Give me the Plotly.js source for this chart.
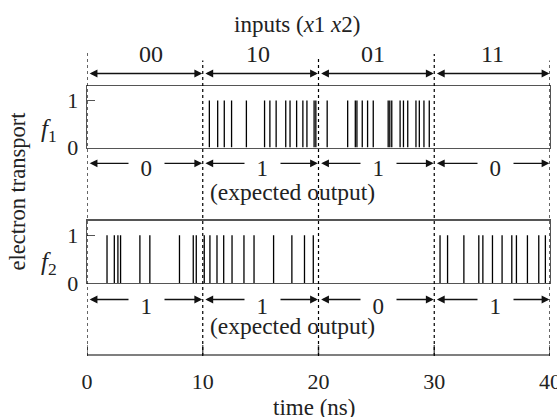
<!DOCTYPE html>
<html>
<head>
<meta charset="utf-8">
<script src="https://cdn.plot.ly/plotly-3.0.1.min.js"></script>
<style>html,body{margin:0;padding:0;background:#fff;}#chart{width:557px;height:417px;}</style>
</head>
<body>
<div id="chart"></div>
<script>
// ---- data ----
const f1Times = [10.57, 11.29, 11.86, 12.49, 13.77, 15.34, 15.80, 16.34, 17.17, 17.54, 18.11, 18.65, 19.00, 19.62, 19.77,
  20.75, 22.52, 23.18, 23.32, 23.78, 24.24, 24.73, 26.02, 26.16, 26.33, 27.05, 27.34, 27.71, 28.42, 28.71, 29.11, 29.57];
const f2Times = [1.73, 2.36, 2.67, 2.90, 4.57, 5.43, 7.99, 9.18, 9.44, 10.13, 10.62, 11.23, 11.81, 12.53, 13.56, 14.43,
  16.12, 17.70, 18.79, 19.55, 30.50, 31.15, 32.56, 33.85, 34.20, 35.03, 35.86, 36.70, 37.10, 38.05, 39.03, 39.60];
const spikeLevel = 1;
const boundaries = [0, 10, 20, 30, 40];
const inputLabels = ['00', '10', '01', '11'];
const f1Expected = ['0', '1', '1', '0'];
const f2Expected = ['1', '1', '0', '1'];
const xTicks = [0, 10, 20, 30, 40];
const yTicks = [0, 1];

// ---- geometry helpers ----
const TOP = 51, BOT = 356, H = BOT - TOP, LEFT = 87, W = 463;
const py = p => (BOT - p) / H;
const px = p => (p - LEFT) / W;

function spikes(times) {
  const x = [], y = [];
  times.forEach(t => { x.push(t, t, null); y.push(0, spikeLevel, null); });
  return {x, y};
}
const s1 = spikes(f1Times), s2 = spikes(f2Times);
// bottom time axis: baseline plus upward tick marks at the tick values
const axX = [xTicks[0], xTicks[xTicks.length - 1], null], axY = [0, 0, null];
xTicks.forEach(t => { axX.push(t, t, null); axY.push(0, 1, null); });

const FONT = 'Liberation Serif, Times New Roman, serif';
const TXT = '#222';

const traces = [
  {type: 'scatter', mode: 'lines', x: s1.x, y: s1.y, xaxis: 'x2', yaxis: 'y',
   line: {color: '#000', width: 1.3}, hoverinfo: 'skip', showlegend: false},
  {type: 'scatter', mode: 'lines', x: s2.x, y: s2.y, xaxis: 'x3', yaxis: 'y2',
   line: {color: '#000', width: 1.3}, hoverinfo: 'skip', showlegend: false},
  {type: 'scatter', mode: 'lines', x: axX, y: axY, xaxis: 'x', yaxis: 'y3',
   line: {color: '#555', width: 1.4}, hoverinfo: 'skip', showlegend: false}
];

const boxAxisX = {matches: 'x', showline: true, mirror: true, linecolor: '#555', linewidth: 1.3,
  showticklabels: false, ticks: '', showgrid: false, zeroline: false};
const panelY = dom => ({domain: dom, range: [0, 1.31], tickvals: yTicks, ticks: 'inside', ticklen: 8,
  tickcolor: '#555', tickwidth: 1.3, showline: true, mirror: true, linecolor: '#555', linewidth: 1.3,
  showgrid: false, zeroline: false, ticklabelstandoff: 3,
  tickfont: {family: FONT, size: 22, color: TXT}});

const shapes = [];
const dashTops = [51.5, 60.4, 56.8, 54, 60.4];
boundaries.forEach((b, i) => {
  shapes.push({type: 'line', xref: 'x', yref: 'paper', x0: b, x1: b, y0: 0, y1: py(dashTops[i]),
    line: {color: '#000', width: 1.2, dash: 'dot'}});
});

const annotations = [];
function arrowRow(yp) {
  for (let i = 0; i < boundaries.length - 1; i++) {
    annotations.push({xref: 'x', yref: 'paper', x: boundaries[i + 1] - 0.05, y: yp,
      axref: 'x', ayref: 'pixel', ax: boundaries[i] + 0.1, ay: 0, text: '', showarrow: true,
      arrowhead: 2, startarrowhead: 2, arrowside: 'end+start', arrowsize: 1.2, startarrowsize: 1.2,
      arrowwidth: 1.3, arrowcolor: '#111', standoff: 0, startstandoff: 0});
  }
}
arrowRow(py(73.5));
arrowRow(py(163.3));
arrowRow(py(299.5));

function label(o) {
  return Object.assign({showarrow: false, xanchor: 'center', yanchor: 'middle'}, o);
}
const topX = [5.5, 14.8, 24.7, 35.0];
inputLabels.forEach((t, i) => annotations.push(label({xref: 'x', yref: 'paper', x: topX[i], y: py(54), text: t,
  font: {family: FONT, size: 24, color: TXT}})));
const midX = [5.1, 15.2, 25.2, 35.3];
f1Expected.forEach((t, i) => annotations.push(label({xref: 'x', yref: 'paper', x: midX[i], y: py(168.3),
  text: '\u00a0\u00a0' + t + '\u00a0\u00a0', bgcolor: '#fff', borderpad: 0,
  font: {family: FONT, size: 23, color: TXT}})));
f2Expected.forEach((t, i) => annotations.push(label({xref: 'x', yref: 'paper', x: midX[i], y: py(306),
  text: '\u00a0\u00a0' + t + '\u00a0\u00a0', bgcolor: '#fff', borderpad: 0,
  font: {family: FONT, size: 23, color: TXT}})));
[py(191.5), py(326)].forEach(yv => annotations.push(label({xref: 'paper', yref: 'paper', x: px(292), y: yv,
  text: '(expected output)', font: {family: FONT, size: 23.5, color: TXT}})));
annotations.push(label({xref: 'paper', yref: 'paper', x: px(297.5), y: py(24.5),
  text: 'inputs (<i>x</i>1 <i>x</i>2)', font: {family: FONT, size: 23, color: TXT}}));
annotations.push(label({xref: 'paper', yref: 'paper', x: px(314), y: py(407),
  text: 'time (ns)', font: {family: FONT, size: 23, color: TXT}}));
annotations.push(label({xref: 'paper', yref: 'paper', x: px(17), y: py(191.5), textangle: -90,
  text: 'electron transport', font: {family: FONT, size: 22.5, color: TXT}}));
annotations.push(label({xref: 'paper', yref: 'paper', x: px(49), y: py(130),
  text: '<i>f</i><sub>1</sub>', font: {family: FONT, size: 25, color: TXT}}));
annotations.push(label({xref: 'paper', yref: 'paper', x: px(49), y: py(263),
  text: '<i>f</i><sub>2</sub>', font: {family: FONT, size: 25, color: TXT}}));

const layout = {
  width: 557, height: 417,
  margin: {l: LEFT, r: 557 - LEFT - W, t: TOP, b: 417 - BOT},
  paper_bgcolor: '#fff', plot_bgcolor: 'rgba(0,0,0,0)',
  showlegend: false,
  xaxis: {range: [0, 40], domain: [0, 1], anchor: 'y3', showline: false, ticks: '', tickvals: xTicks,
    showgrid: false, zeroline: false, ticklabelstandoff: 10, ticklabeloverflow: 'allow',
    tickfont: {family: FONT, size: 22, color: TXT}},
  xaxis2: Object.assign({anchor: 'y'}, boxAxisX),
  xaxis3: Object.assign({anchor: 'y2'}, boxAxisX),
  yaxis: Object.assign({anchor: 'x2'}, panelY([py(147.5), py(86)])),
  yaxis2: Object.assign({anchor: 'x3'}, panelY([py(283), py(220.5)])),
  yaxis3: {domain: [0, 11 / H], range: [-0.1, 1], anchor: 'x', showline: false, showticklabels: false,
    ticks: '', showgrid: false, zeroline: false},
  shapes: shapes,
  annotations: annotations
};

Plotly.newPlot('chart', traces, layout, {staticPlot: true, displayModeBar: false});
</script>
</body>
</html>
